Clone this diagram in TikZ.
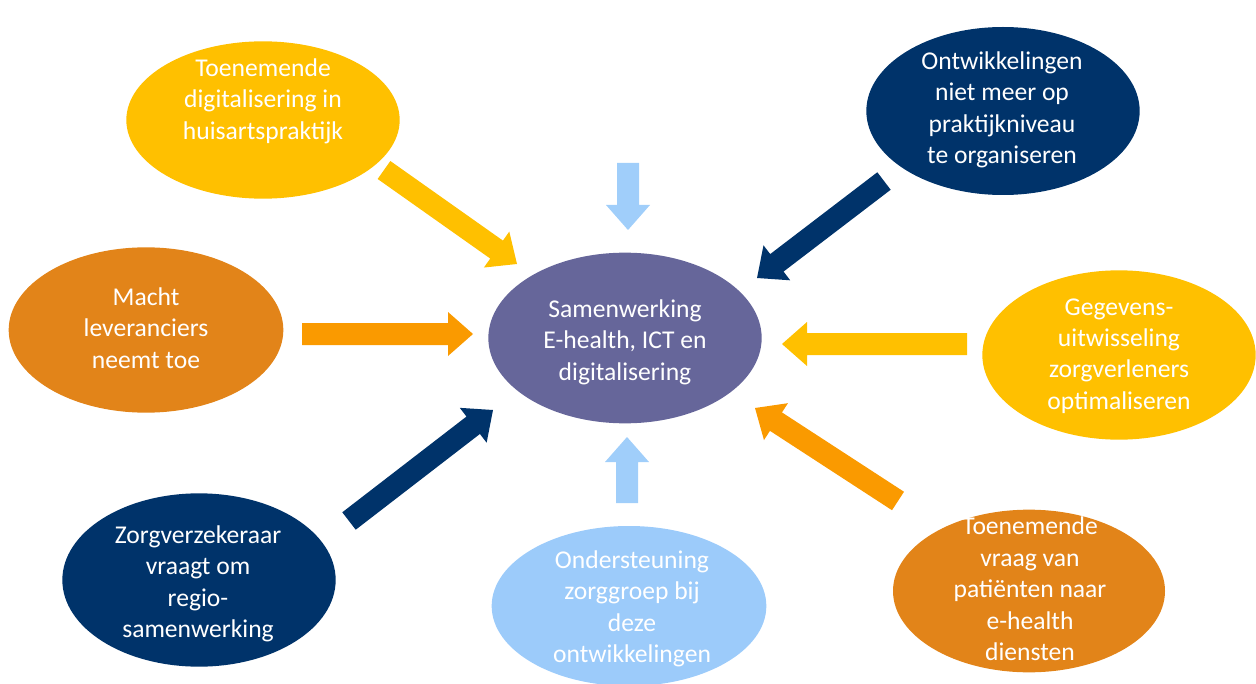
\documentclass[tikz,border=0pt]{standalone}
\usepackage{fontspec}
\setmainfont{Carlito}
\usetikzlibrary{shapes.geometric,calc}

\definecolor{cYellow}{HTML}{FFC000}
\definecolor{cNavy}{HTML}{00336A}
\definecolor{cOrange}{HTML}{E28419}
\definecolor{cOrangeArrow}{HTML}{FA9A00}
\definecolor{cPurple}{HTML}{66669A}
\definecolor{cLightBlue}{HTML}{9CCBFA}
\definecolor{cLightArrow}{HTML}{A0CEFA}

% block arrow from tail #1 to tip #2, filled with colour #3
\newcommand\drawblockarrow[3]{%
  \coordinate (#1-b) at ($(#2)!18.75pt!(#1)$);
  \fill[#3] ($(#1)!8.25pt!90:(#2)$) -- ($(#1-b)!8.25pt!90:(#2)$)
    -- ($(#1-b)!16.5pt!90:(#2)$) -- (#2)
    -- ($(#1-b)!16.5pt!-90:(#2)$) -- ($(#1-b)!8.25pt!-90:(#2)$)
    -- ($(#1)!8.25pt!-90:(#2)$) -- cycle;}

\begin{document}
\begin{tikzpicture}[x=0.75pt,y=-0.75pt,
  bubble/.style={ellipse, fill=#1, draw=none, inner sep=0pt},
  txt/.style={text=white, align=center, inner sep=0pt,
    font=\fontsize{19.2}{23.6}\selectfont}]
\useasboundingbox (0,0) rectangle (1256,684);

% ellipses
\node[bubble=cYellow, minimum width=205pt, minimum height=118pt] (tl) at (263,120) {};
\node[bubble=cNavy, minimum width=205pt, minimum height=126pt] (tr) at (1003,111) {};
\node[bubble=cOrange, minimum width=206pt, minimum height=124pt] (ml) at (146,330) {};
\node[bubble=cPurple, minimum width=205pt, minimum height=128pt] (mid) at (625,338) {};
\node[bubble=cYellow, minimum width=205pt, minimum height=127pt] (mr) at (1119,355) {};
\node[bubble=cNavy, minimum width=205pt, minimum height=130pt] (bl) at (199,580) {};
\node[bubble=cLightBlue, minimum width=206pt, minimum height=120pt] (bm) at (629,606) {};
\node[bubble=cOrange, minimum width=204pt, minimum height=122pt] (br) at (1029,591) {};

% texts
\node[txt] (tl-t) at (263,101) {Toenemende\\digitalisering in\\huisartspraktijk};
\node[txt] (tr-t) at (1002,110) {Ontwikkelingen\\niet meer op\\praktijkniveau\\te organiseren};
\node[txt] (ml-t) at (146,328) {Macht\\leveranciers\\neemt toe};
\node[txt] (mid-t) at (625,342) {Samenwerking\\E-health, ICT en\\digitalisering};
\node[txt] (mr-t) at (1119,356) {Gegevens-\\uitwisseling\\zorgverleners\\optimaliseren};
\node[txt] (bl-t) at (198,584) {Zorgverzekeraar\\vraagt om\\regio-\\samenwerking};
\node[txt] (bm-t) at (632,609) {Ondersteuning\\zorggroep bij\\deze\\ontwikkelingen};
\node[txt] (br-t) at (1030,589) {Toenemende\\vraag van\\patiënten naar\\e-health\\diensten};

% arrow ends
\coordinate (a1t) at (384,170);  \coordinate (a1h) at (517,264);
\coordinate (a2t) at (628,163);  \coordinate (a2h) at (628,230);
\coordinate (a3t) at (884,181);  \coordinate (a3h) at (757,278);
\coordinate (a4t) at (302,334);  \coordinate (a4h) at (473,334);
\coordinate (a5t) at (967,344);  \coordinate (a5h) at (782,344);
\coordinate (a6t) at (349,521);  \coordinate (a6h) at (493,410);
\coordinate (a7t) at (627,503);  \coordinate (a7h) at (627,437);
\coordinate (a8t) at (898,501);  \coordinate (a8h) at (755,408);

% block arrows
\drawblockarrow{a1t}{a1h}{cYellow}
\drawblockarrow{a2t}{a2h}{cLightArrow}
\drawblockarrow{a3t}{a3h}{cNavy}
\drawblockarrow{a4t}{a4h}{cOrangeArrow}
\drawblockarrow{a5t}{a5h}{cYellow}
\drawblockarrow{a6t}{a6h}{cNavy}
\drawblockarrow{a7t}{a7h}{cLightArrow}
\drawblockarrow{a8t}{a8h}{cOrangeArrow}
\end{tikzpicture}
\end{document}
